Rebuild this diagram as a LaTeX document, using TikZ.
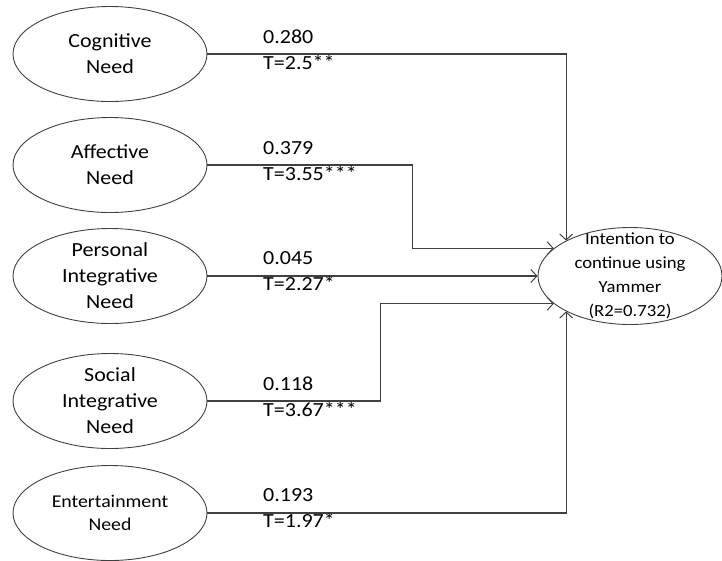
\documentclass[tikz,border=0pt]{standalone}
\usepackage{fontspec}
\setmainfont{Carlito}[FakeStretch=1.1]
\usetikzlibrary{shapes.geometric,arrows.meta}

\definecolor{linea}{HTML}{404040}

\tikzset{
  bisogno/.style={ellipse, draw=linea, line width=0.9pt, minimum width=194pt,
    minimum height=95pt, inner sep=0pt, align=center,
    font=\fontsize{20}{26}\selectfont},
  esito/.style={ellipse, draw=linea, line width=0.9pt, minimum width=184pt,
    minimum height=97pt, inner xsep=0pt, inner ysep=-20pt, align=center,
    font=\fontsize{17}{24}\selectfont},
  coeff/.style={anchor=west, inner sep=0pt, align=left,
    font=\fontsize{20}{26}\selectfont},
  freccia/.style={draw=linea, line width=1.2pt,
    -{Straight Barb[length=6pt,width=13pt,line width=1pt]}}
}

\begin{document}
\begin{tikzpicture}[x=1pt,y=1pt]
        \useasboundingbox (0,0) rectangle (722,-560);

        % Bisogni (a sinistra)
        \node[bisogno] (cog) at (110,-54) {Cognitive\\Need};
        \node[bisogno] (aff) at (110,-165) {Affective\\Need};
        \node[bisogno] (pers) at (110,-276) {Personal\\Integrative\\Need};
        \node[bisogno] (soc) at (110,-401) {Social\\Integrative\\Need};
        \node[bisogno, font=\fontsize{18}{23}\selectfont] (ent) at (110,-513) {Entertainment\\Need};

        % Intenzione (a destra)
        \node[esito] (int) at (630,-276) {Intention to\\continue using\\Yammer\\(R2=0.732)};

        % Percorsi
        \draw[freccia] (cog.east) -| (int.151);
        \draw[freccia] (aff.east) -- ++(205,0) |- (int.160);
        \draw[freccia] (pers.east) -- (int.west);
        \draw[freccia] (soc.east) -- ++(173,0) |- (int.200);
        \draw[freccia] (ent.east) -| (int.209);

        % Coefficienti
        \node[coeff] (kcog) at (263,-50) {0.280\\T=2.5**};
        \node[coeff] (kaff) at (263,-161) {0.379\\T=3.55***};
        \node[coeff] (kpers) at (263,-271) {0.045\\T=2.27*};
        \node[coeff] (ksoc) at (263,-397) {0.118\\T=3.67***};
        \node[coeff] (kent) at (263,-508) {0.193\\T=1.97*};

        \end{tikzpicture}
\end{document}
